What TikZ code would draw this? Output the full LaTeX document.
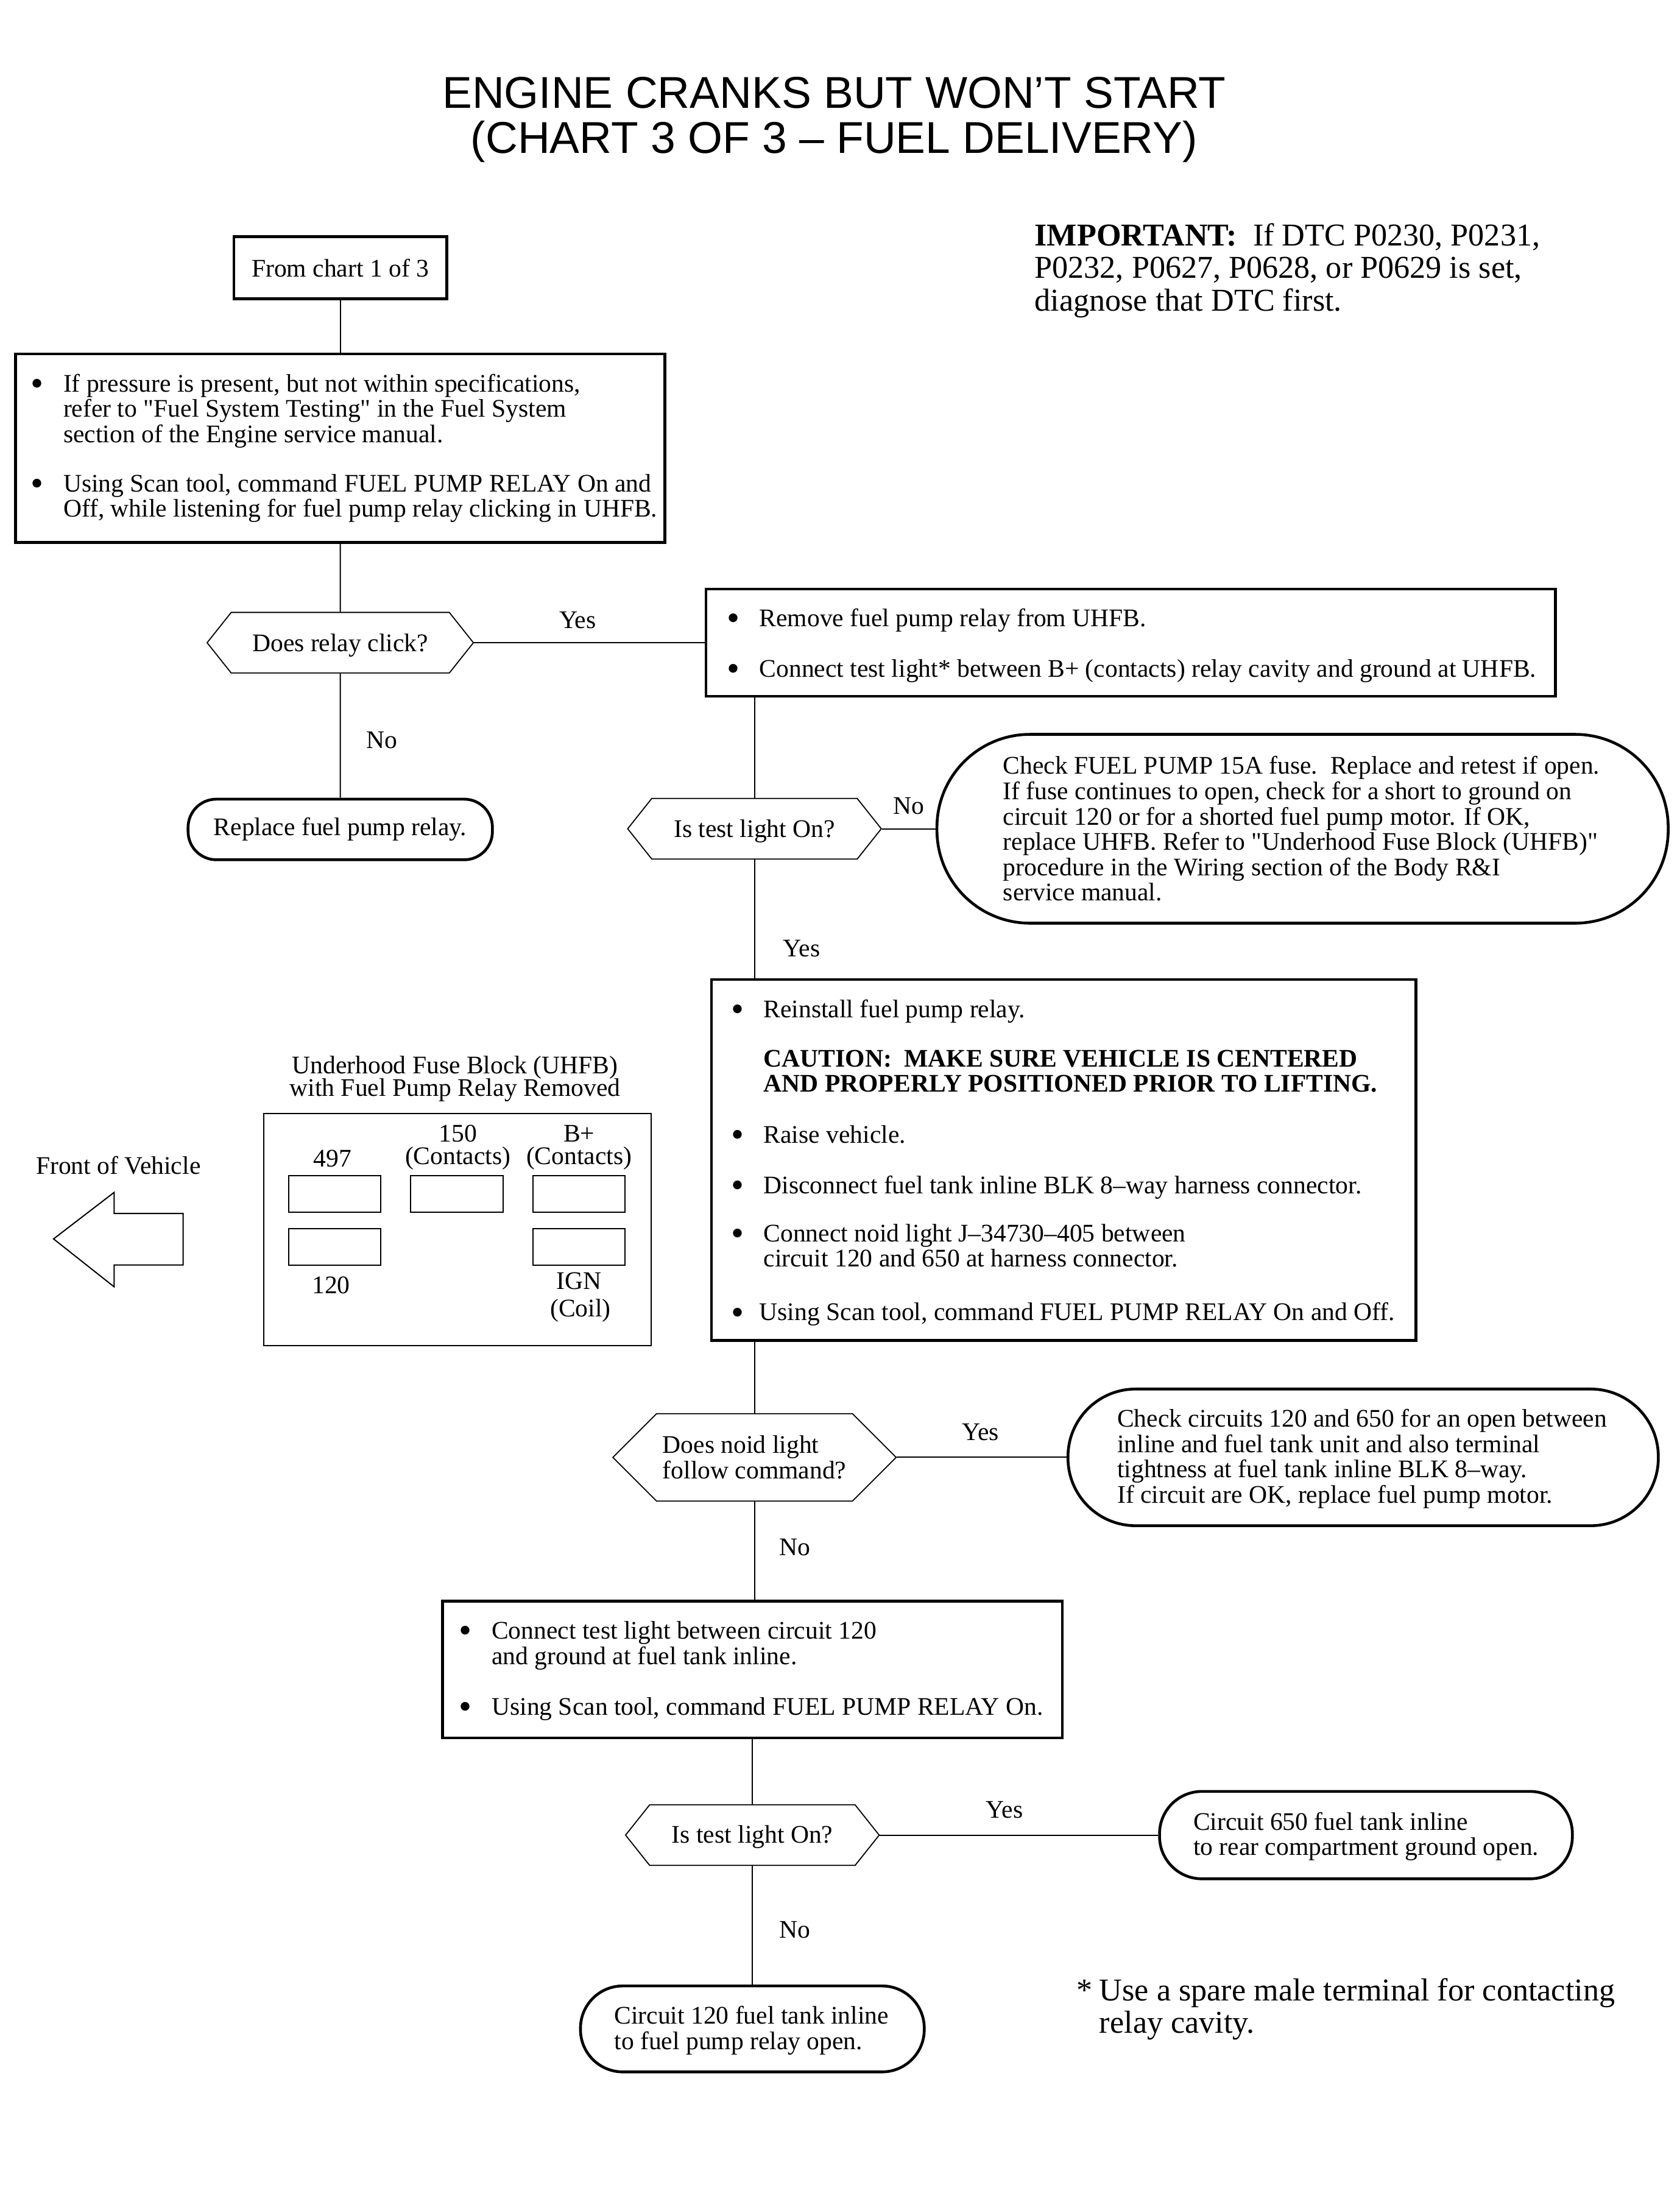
\documentclass[tikz,border=0pt]{standalone}
\usepackage{fontspec}
\setmainfont{Liberation Serif}
\newfontfamily\titlefont{Liberation Sans}
\usetikzlibrary{shapes.symbols}

\newdimen\du
\du=0.5784pt
\newcommand{\bodyfont}{\fontsize{10.4}{10.41}\selectfont}
\newcommand{\stackfont}{\fontsize{10.4}{9.25}\selectfont\lineskiplimit=-5pt\relax}
\newcommand{\bul}[1]{\leavevmode\llap{\raisebox{-1.6pt}[0pt][0pt]{\fontsize{15}{15}\selectfont\textbullet}\hspace{#1\du}}}
\newcommand{\tailup}[1]{\par\kern-#1\du}

\tikzset{
  actbox/.style 2 args={draw,line width=1.15pt,inner sep=0pt,align=flush left,font=\bodyfont,
                        text width=#1\du,minimum height=#2\du},
  endbox/.style n args={3}{actbox={#1}{#2},rounded corners=#3\du},
  askbox/.style n args={3}{draw,line width=0.45pt,inner sep=0pt,align=left,font=\bodyfont,
                        shape=signal,signal to=east and west,signal pointer angle=#3,
                        minimum width=#1\du,minimum height=#2\du},
  flow/.style={line width=0.5pt},
  lbl/.style={inner sep=0pt,font=\bodyfont},
  lblstack/.style={inner sep=0pt,align=center,font=\stackfont},
  slot/.style={draw,line width=0.5pt,inner sep=0pt,minimum width=65.5\du,minimum height=26\du},
  note/.style={inner sep=0pt,anchor=west,align=left,font=\fontsize{13.05}{13.3}\selectfont}
}

\begin{document}
\begin{tikzpicture}[x=0.5784pt,y=-0.5786pt]

  \useasboundingbox (0,0) rectangle (1192,1568);

  %% title and notes
  \node[inner sep=0pt,align=center,font=\titlefont\fontsize{18.3}{18.5}\selectfont] (title) at (592,85)
    {ENGINE CRANKS BUT WON’T START\\(CHART 3 OF 3 – FUEL DELIVERY)};
  \node[note] (important) at (734,192)
    {\textbf{IMPORTANT:}\ \ If DTC P0230, P0231,\\P0232, P0627, P0628, or P0629 is set,\\diagnose that DTC first.};
  \node[note] (spare) at (780,1425.5)
    {\llap{*\hspace{5\du}}Use a spare male terminal for contacting\\relay cavity.};

  %% left column
  \node[actbox={151}{44},align=flush center] (fromchart) at (241.5,190) {From chart 1 of 3};
  \node[actbox={461}{134}] (pressure) at (241.5,318)
    {\leftskip=34\du
     \bul{14}If pressure is present, but not within specifications,\\
     refer to \textquotedbl Fuel System Testing\textquotedbl\ in the Fuel System\\
     section of the Engine service manual.\\[17\du]
     \bul{14}Using Scan tool, command FUEL PUMP RELAY On and\\
     Off, while listening for fuel pump relay clicking in UHFB.\par};
  \node[askbox={189}{43}{103},text depth=0pt] (relayclick) at (241.5,456) {Does relay click?};
  \node[endbox={216}{43}{20},align=flush center] (replacerelay) at (241.5,588.5) {Replace fuel pump relay.};

  %% right column
  \node[actbox={603}{76}] (removerelay) at (802.5,456)
    {\leftskip=38\du
     \bul{14}Remove fuel pump relay from UHFB.\\[18\du]
     \bul{14}Connect test light* between B+ (contacts) relay cavity and ground at UHFB.\tailup{4}};
  \node[askbox={180}{43}{103},text depth=0pt] (lighton) at (535.5,588) {Is test light On?};
  \node[endbox={519}{134}{66}] (checkfuse) at (924.5,588)
    {\leftskip=47\du
     Check FUEL PUMP 15A fuse.\ \ Replace and retest if open.\\
     If fuse continues to open, check for a short to ground on\\
     circuit 120 or for a shorted fuel pump motor. If OK,\\
     replace UHFB. Refer to \textquotedbl Underhood Fuse Block (UHFB)\textquotedbl\\
     procedure in the Wiring section of the Body R\&I\\
     service manual.\par};
  \node[actbox={500}{256}] (reinstall) at (755,823)
    {\leftskip=37\du
     \bul{14}Reinstall fuel pump relay.\\[17\du]
     \textbf{CAUTION:\ \ MAKE SURE VEHICLE IS CENTERED}\\
     \textbf{AND PROPERLY POSITIONED PRIOR TO LIFTING.}\\[18\du]
     \bul{14}Raise vehicle.\\[18\du]
     \bul{14}Disconnect fuel tank inline BLK 8–way harness connector.\\[16\du]
     \bul{14}Connect noid light J–34730–405 between\\
     circuit 120 and 650 at harness connector.\\[20\du]
     \bul{14}\hspace*{-3\du}Using Scan tool, command FUEL PUMP RELAY On and Off.\tailup{4}};
  \node[askbox={201}{62}{90}] (noidfollow) at (535.5,1034) {Does noid light\\follow command?};
  \node[endbox={419}{97}{48}] (checkcircuits) at (967.5,1034)
    {\leftskip=35\du
     Check circuits 120 and 650 for an open between\\
     inline and fuel tank unit and also terminal\\
     tightness at fuel tank inline BLK 8–way.\\
     If circuit are OK, replace fuel pump motor.\tailup{2}};
  \node[actbox={440}{97}] (testlight) at (534,1184.5)
    {\leftskip=35\du
     \bul{14}Connect test light between circuit 120\\
     and ground at fuel tank inline.\\[18\du]
     \bul{14}Using Scan tool, command FUEL PUMP RELAY On.\tailup{2}};
  \node[askbox={180}{43}{103},text depth=1pt] (lightontwo) at (534,1302) {Is test light On?};
  \node[endbox={293}{62}{30}] (circuitsix) at (969.5,1302)
    {\leftskip=24\du
     Circuit 650 fuel tank inline\\
     to rear compartment ground open.\tailup{2}};
  \node[endbox={244}{61}{30}] (circuitone) at (534,1439.5)
    {\leftskip=24\du
     Circuit 120 fuel tank inline\\
     to fuel pump relay open.\tailup{2}};

  %% connectors
  \draw[flow] (fromchart) -- (pressure);
  \draw[flow] (pressure) -- (relayclick);
  \draw[flow] (relayclick) -- (replacerelay);
  \draw[flow] (relayclick.east) -- (removerelay.west);
  \draw[flow] (lighton.north) -- (lighton.north|-removerelay.south);
  \draw[flow] (lighton.east) -- (checkfuse.west);
  \draw[flow] (lighton.south) -- (lighton.south|-reinstall.north);
  \draw[flow] (noidfollow.north) -- (noidfollow.north|-reinstall.south);
  \draw[flow] (noidfollow.east) -- (checkcircuits.west);
  \draw[flow] (noidfollow.south) -- (noidfollow.south|-testlight.north);
  \draw[flow] (lightontwo.north) -- (testlight.south);
  \draw[flow] (lightontwo.east) -- (circuitsix.west);
  \draw[flow] (lightontwo.south) -- (circuitone.north);

  %% connector labels
  \foreach \myname/\myx/\myy/\mytext in {yesa/410/440/Yes,noa/271/525/No,nob/645/572/No,yesb/569/673/Yes,
                                         yesc/696/1016/Yes,noc/564/1098/No,yesd/713/1284/Yes,nod/564/1369/No}
  {
    \node[lbl] (\myname) at (\myx,\myy) {\mytext};
  }

  %% fuse block drawing
  \node[lblstack] (blocktitle) at (323,765.5) {Underhood Fuse Block (UHFB)\\with Fuel Pump Relay Removed};
  \node[draw,line width=0.5pt,inner sep=0pt,minimum width=275\du,minimum height=164.5\du] (block) at (324.7,872.3) {};
  \foreach \myname/\myx/\myy in {slota/237.5/847,slotb/324.2/847,slotc/411/847,slotd/237.5/884.7,slote/411/884.7}
  {
    \node[slot] (\myname) at (\myx,\myy) {};
  }
  \node[lbl] (labela) at (236,822) {497};
  \node[lblstack] (labelb) at (325,814) {150\\(Contacts)};
  \node[lblstack] (labelc) at (411,814) {B+\\(Contacts)};
  \node[lbl] (labeld) at (235,912) {120};
  \node[lbl] (labele) at (411,909) {IGN};
  \node[lbl] (labelf) at (412,930) {(Coil)};

  %% front of vehicle arrow
  \node[lbl] (front) at (84,827) {Front of Vehicle};
  \draw[line width=0.5pt] (38,879) -- (81,846) -- (81,861) -- (130,861) -- (130,897.5) -- (81,897.5) -- (81,913) -- cycle;

\end{tikzpicture}
\end{document}
